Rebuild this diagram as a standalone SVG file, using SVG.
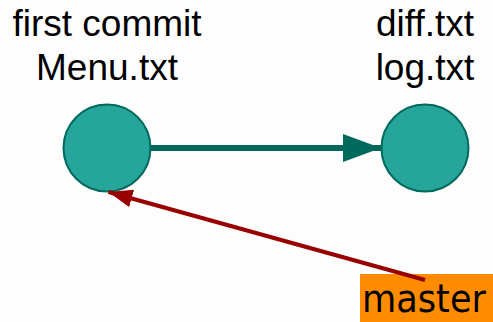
<svg xmlns="http://www.w3.org/2000/svg" width="493" height="322" viewBox="0 0 493 322">
<defs>
<style>
.node{fill:#26a69a;stroke:#00695c;stroke-width:2}
.lbl{font-family:"Liberation Sans",Arial,sans-serif;font-size:37px;fill:#000;text-anchor:middle}
.edge{stroke:#00695c;stroke-width:6;fill:none}
.ref{stroke:#990000;stroke-width:4;fill:none}
.tag{font-family:"DejaVu Sans",sans-serif;font-size:39px;fill:#000}
</style>
<marker id="ah-green" markerUnits="userSpaceOnUse" markerWidth="38" markerHeight="28" viewBox="0 0 38 28" refX="38" refY="14" orient="auto">
<path d="M0,0 L38,14 L0,28 Z" fill="#00695c"/>
</marker>
<marker id="ah-red" markerUnits="userSpaceOnUse" markerWidth="24" markerHeight="18" viewBox="0 0 24 18" refX="24" refY="9" orient="auto">
<path d="M0,0 L24,9 L0,18 Z" fill="#990000"/>
</marker>
</defs>
<rect width="493" height="322" fill="#fdfdfd"/>
<g id="commit1">
<circle class="node" cx="107" cy="148" r="43.5"/>
<text class="lbl" x="107" y="36">first commit</text>
<text class="lbl" x="107" y="80">Menu.txt</text>
</g>
<g id="commit2">
<circle class="node" cx="425" cy="148" r="43.5"/>
<text class="lbl" x="425" y="36">diff.txt</text>
<text class="lbl" x="425" y="80">log.txt</text>
</g>
<g id="master">
<rect x="360" y="274" width="133" height="48" fill="#ff8c00"/>
<text class="tag" x="362" y="312" textLength="124" lengthAdjust="spacingAndGlyphs">master</text>
</g>
<g id="connectors">
<line class="edge" x1="151" y1="148" x2="381" y2="148" marker-end="url(#ah-green)"/>
<line class="ref" x1="425" y1="280" x2="108.5" y2="192" marker-end="url(#ah-red)"/>
</g>
</svg>
